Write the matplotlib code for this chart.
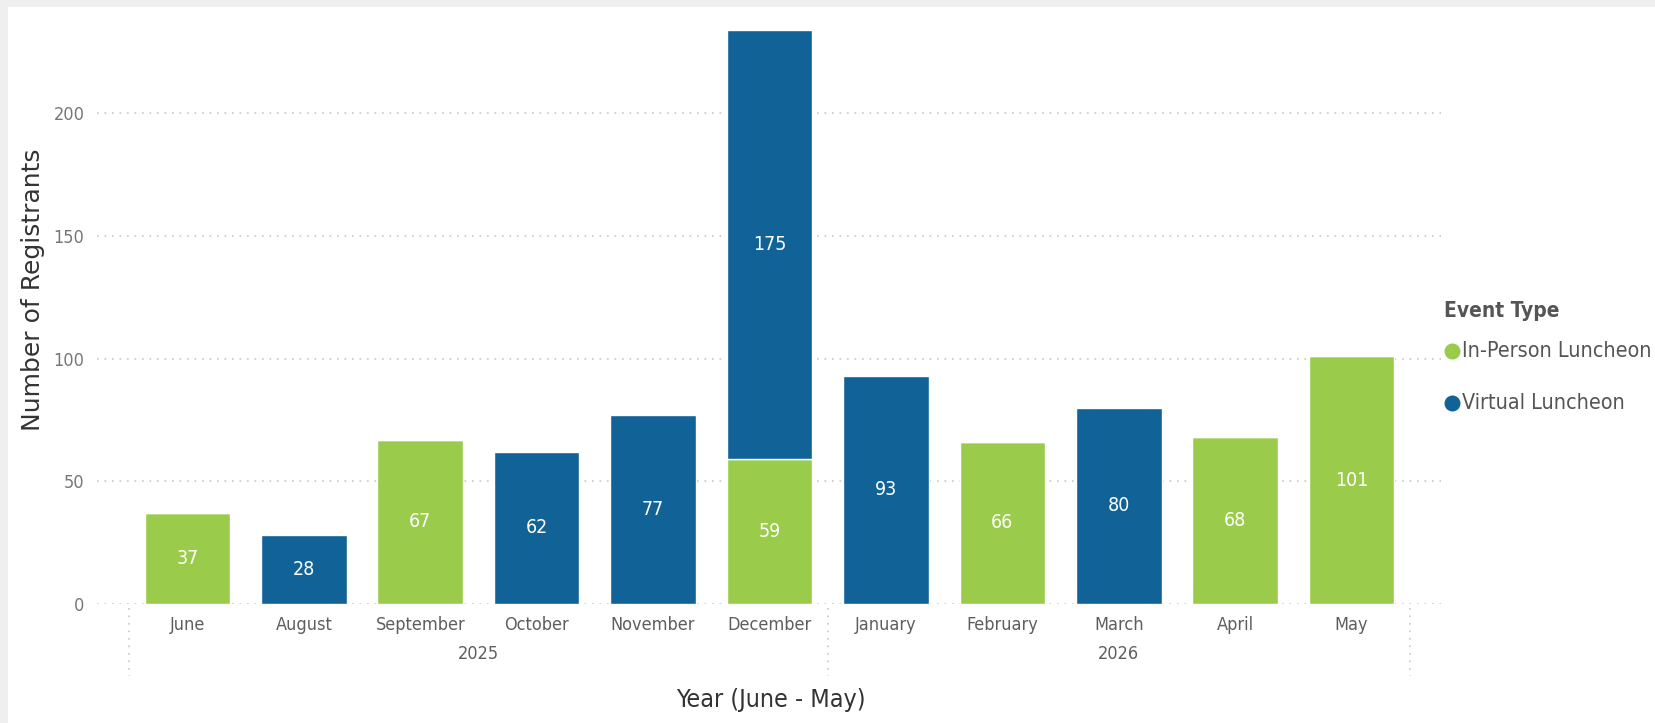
import matplotlib
matplotlib.use("Agg")
import matplotlib.pyplot as plt
from matplotlib.lines import Line2D
from matplotlib.patches import Rectangle

months = ["June", "August", "September", "October", "November", "December",
          "January", "February", "March", "April", "May"]
in_person = [37, 0, 67, 0, 0, 59, 0, 66, 0, 68, 101]
virtual = [0, 28, 0, 62, 77, 175, 93, 0, 80, 0, 0]
years = ["2025", "2026"]
year_spans = [(-0.5, 5.5), (5.5, 10.5)]

GREEN = "#9bcb4b"
BLUE = "#116397"
COND = ["DejaVu Sans"]
STRETCH = "condensed"

W, H = 1655, 723
fig = plt.figure(figsize=(W / 100, H / 100), dpi=100)
fig.patch.set_facecolor("#efefef")
fig.add_artist(Rectangle((8 / W, 0), 1, 1 - 7 / H, transform=fig.transFigure,
                         facecolor="white", edgecolor="none", zorder=0))

ax = fig.add_axes([97 / W, 1 - 604 / H, (1441 - 97) / W, (604 - 14.8) / H])
ax.set_facecolor("none")
x = list(range(len(months)))

ax.bar(x, in_person, width=0.735, color=GREEN, edgecolor="white", linewidth=1, zorder=3)
ax.bar(x, virtual, width=0.735, bottom=in_person, color=BLUE, edgecolor="white",
       linewidth=1, zorder=3)

# value labels centred in each segment
for i in x:
    if in_person[i]:
        ax.text(i, in_person[i] / 2, str(in_person[i]), ha="center", va="center",
                color="white", fontsize=14, family=COND, stretch=STRETCH, zorder=4)
    if virtual[i]:
        ax.text(i, in_person[i] + virtual[i] / 2, str(virtual[i]), ha="center",
                va="center", color="white", fontsize=14, family=COND,
                stretch=STRETCH, zorder=4)

ax.set_xlim(-0.777, 10.768)
ax.set_ylim(0, 240)
ax.set_yticks([0, 50, 100, 150, 200])
ax.yaxis.grid(True, color="#c8c8c8", linestyle=(0, (1, 3.5)), linewidth=1.2, zorder=0)
for s in ax.spines.values():
    s.set_visible(False)
ax.tick_params(axis="both", length=0)
ax.tick_params(axis="y", pad=9, labelsize=13, labelcolor="#777777")
ax.tick_params(axis="x", pad=9, labelsize=13, labelcolor="#605e5c")
ax.set_xticks(x)
ax.set_xticklabels(months)
for lab in ax.get_xticklabels() + ax.get_yticklabels():
    lab.set_family(COND)
    lab.set_stretch(STRETCH)

# year group labels and separators
xt = ax.get_xaxis_transform()
for yr, (a, b) in zip(years, year_spans):
    ax.annotate(yr, xy=((a + b) / 2, 0), xycoords=xt, xytext=(0, -50),
                textcoords="offset pixels", ha="center", va="center",
                fontsize=13, color="#605e5c", family=COND, stretch=STRETCH)
for sx in [-0.5, 5.5, 10.5]:
    ax.add_line(Line2D([sx, sx], [-4 / 589, -72 / 589], transform=xt, clip_on=False,
                       color="#c8c8c8", linestyle=(0, (1, 3.5)), linewidth=1.2))

fig.text(771 / W, 1 - 700 / H, "Year (June - May)", ha="center", va="center",
         fontsize=18, color="#333333", family=COND, stretch=STRETCH)
fig.text(33 / W, 1 - 290 / H, "Number of Registrants", ha="center", va="center",
         rotation=90, fontsize=18, color="#333333")

# legend
fig.text(1444 / W, 1 - 311 / H, "Event Type", ha="left", va="center",
         fontsize=15, fontweight="bold", color="#555555", family=COND, stretch=STRETCH)
for lbl, col, yy in [("In-Person Luncheon", GREEN, 351), ("Virtual Luncheon", BLUE, 403)]:
    fig.add_artist(Line2D([1452 / W], [1 - yy / H], marker="o", markersize=10.5,
                          color=col, transform=fig.transFigure))
    fig.text(1462 / W, 1 - yy / H, lbl, ha="left", va="center",
             fontsize=15.4, color="#555555", family=COND, stretch=STRETCH)

fig.savefig("out.png", dpi=100)
